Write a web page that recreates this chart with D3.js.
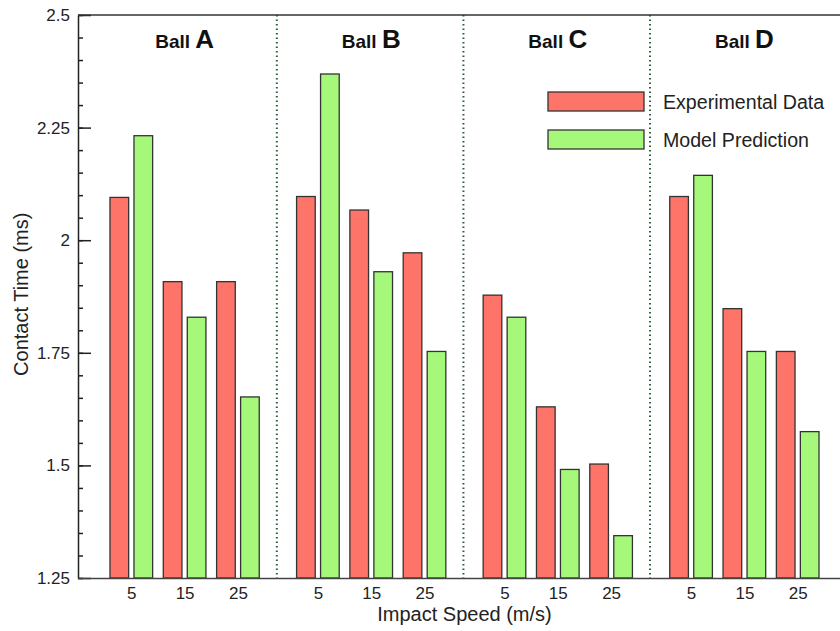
<!DOCTYPE html>
<html>
<head>
<meta charset="utf-8">
<script src="https://cdn.jsdelivr.net/npm/d3@7"></script>
<style>
  body { margin: 0; background: #fff; }
  svg { display: block; font-family: "Liberation Sans", Arial, sans-serif; }
</style>
</head>
<body>
<div id="chart"></div>
<script>
// values
var balls = ["A", "B", "C", "D"];
var speeds = [5, 15, 25];
var seriesNames = ["Experimental Data", "Model Prediction"];
var experimental = [
  [2.095, 1.908, 1.908],
  [2.097, 2.067, 1.972],
  [1.878, 1.630, 1.503],
  [2.097, 1.848, 1.753]
];
var model = [
  [2.232, 1.829, 1.652],
  [2.369, 1.930, 1.753],
  [1.829, 1.491, 1.344],
  [2.144, 1.753, 1.575]
];
var yTicks = [1.25, 1.5, 1.75, 2, 2.25, 2.5];
var yTickLabels = ["1.25", "1.5", "1.75", "2", "2.25", "2.5"];
var groupSpan = 35;               // speed units between ball groups
var dividers = [32.3, 67.3, 102.3];

var colors = ["#ff7468", "#a6f87a"];
var width = 840, height = 631;
var margin = {top: 15, left: 78, bottom: 53};

var svg = d3.select("#chart").append("svg")
  .attr("width", width)
  .attr("height", height);

var x = d3.scaleLinear()
  .domain([-5, 140])
  .range([margin.left, 851]);

var y = d3.scaleLinear()
  .domain([1.25, 2.5])
  .range([height - margin.bottom, margin.top]);

var barW = x(3.5) - x(0),
  halfGap = 2.25;

// dotted separators between balls
svg.selectAll(".divider")
  .data(dividers)
  .enter().append("line")
  .attr("class", "divider")
  .attr("x1", function (d) { return x(d); })
  .attr("x2", function (d) { return x(d); })
  .attr("y1", y(2.5))
  .attr("y2", y(1.25))
  .attr("stroke", "#2d5e34")
  .attr("stroke-width", 2)
  .attr("stroke-dasharray", "1.5,3");

// bars
var bars = [];
balls.forEach(function (b, g) {
  speeds.forEach(function (s, i) {
    bars.push({u: g * groupSpan + s - halfGap, v: experimental[g][i], k: 0});
    bars.push({u: g * groupSpan + s + halfGap, v: model[g][i], k: 1});
  });
});

svg.selectAll(".bar")
  .data(bars)
  .enter().append("rect")
  .attr("class", "bar")
  .attr("x", function (d) { return x(d.u) - barW / 2; })
  .attr("y", function (d) { return y(d.v); })
  .attr("width", barW)
  .attr("height", function (d) { return y(1.25) - y(d.v); })
  .attr("fill", function (d) { return colors[d.k]; })
  .attr("stroke", "#333")
  .attr("stroke-width", 1.3);

// ball titles
var title = svg.selectAll(".ball")
  .data(balls)
  .enter().append("text")
  .attr("class", "ball")
  .attr("x", function (d, g) { return x(g * groupSpan + 15); })
  .attr("y", 48)
  .attr("text-anchor", "middle")
  .attr("font-weight", "bold")
  .attr("fill", "#111");
title.append("tspan").attr("font-size", 19).text("Ball ");
title.append("tspan").attr("font-size", 26).text(function (d) { return d; });

// y axis, major and minor ticks pointing inward
svg.append("g")
  .attr("transform", "translate(" + margin.left + ",0)")
  .call(d3.axisLeft(y).tickValues(d3.range(1.25, 2.5001, 0.05)).tickSize(-5).tickFormat(""))
  .call(function (g) { g.select(".domain").remove(); });

var yAxis = svg.append("g")
  .attr("transform", "translate(" + margin.left + ",0)")
  .call(d3.axisLeft(y)
    .tickValues(yTicks)
    .tickSizeInner(-13)
    .tickSizeOuter(0)
    .tickPadding(8)
    .tickFormat(function (d, i) { return yTickLabels[i]; }));
yAxis.selectAll("text").attr("font-size", 17).attr("fill", "#222");

svg.selectAll(".tick line").attr("stroke", "#222").attr("stroke-width", 1.5);
yAxis.select(".domain").attr("stroke", "#222").attr("stroke-width", 1.5);

// x axis
var xTicks = [], xLabels = [];
balls.forEach(function (b, g) {
  speeds.forEach(function (s) {
    xTicks.push(g * groupSpan + s);
    xLabels.push(String(s));
  });
});
var xAxis = svg.append("g")
  .attr("transform", "translate(0," + y(1.25) + ")")
  .call(d3.axisBottom(x)
    .tickValues(xTicks)
    .tickSize(0)
    .tickPadding(9)
    .tickFormat(function (d, i) { return xLabels[i]; }));
xAxis.selectAll("text").attr("font-size", 17).attr("fill", "#222");
xAxis.select(".domain").attr("stroke", "#444").attr("stroke-width", 1.5);

// top frame
svg.append("line")
  .attr("x1", margin.left).attr("x2", width)
  .attr("y1", y(2.5)).attr("y2", y(2.5))
  .attr("stroke", "#333").attr("stroke-width", 1.5);

// axis titles
svg.append("text")
  .attr("x", x(67.5))
  .attr("y", 621)
  .attr("text-anchor", "middle")
  .attr("font-size", 20)
  .attr("fill", "#222")
  .text("Impact Speed (m/s)");

svg.append("text")
  .attr("transform", "translate(28," + y(1.88) + ") rotate(-90)")
  .attr("text-anchor", "middle")
  .attr("font-size", 20)
  .attr("fill", "#222")
  .text("Contact Time (ms)");

// legend
var legend = svg.selectAll(".legend")
  .data(seriesNames)
  .enter().append("g")
  .attr("class", "legend")
  .attr("transform", function (d, i) { return "translate(548," + (92 + i * 38) + ")"; });
legend.append("rect")
  .attr("width", 96)
  .attr("height", 19)
  .attr("fill", function (d, i) { return colors[i]; })
  .attr("stroke", "#333")
  .attr("stroke-width", 1.3);
legend.append("text")
  .attr("x", 115)
  .attr("y", 10)
  .attr("dy", "0.35em")
  .attr("font-size", 19.6)
  .attr("fill", "#222")
  .text(function (d) { return d; });
</script>
</body>
</html>
